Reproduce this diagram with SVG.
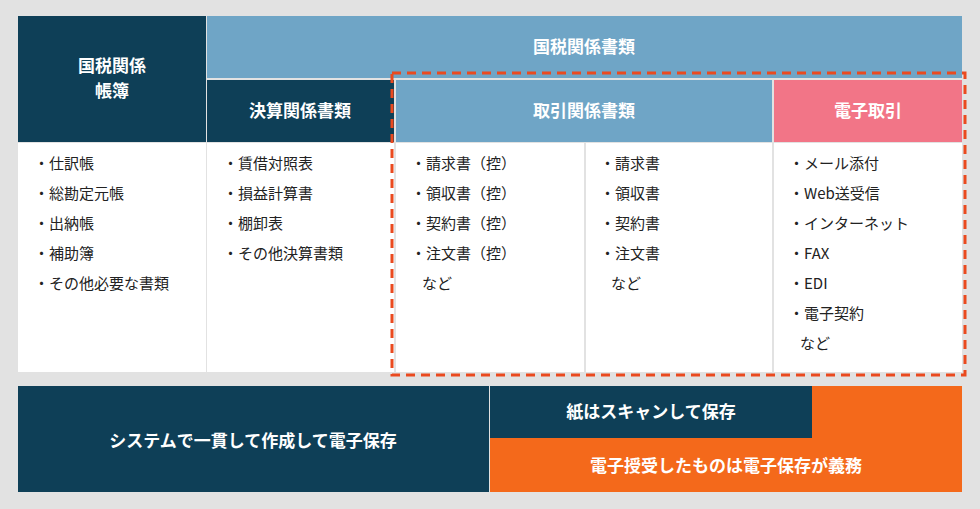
<svg xmlns="http://www.w3.org/2000/svg" width="980" height="509" viewBox="0 0 980 509">
<style>
text{font-family:"Noto Sans CJK JP","Noto Sans",sans-serif;}
.h{fill:#fff;font-size:17px;font-weight:bold;text-anchor:middle;}
.b{fill:#222;font-size:15px;}
.navy{fill:#0e3f57;}
.lb{fill:#6fa5c6;}
</style>
<rect width="980" height="509" fill="#e2e2e2"/>
<g id="hdr-col1"><rect class="navy" x="18" y="16" width="188" height="126"/><text class="h" x="112" y="72">国税関係</text><text class="h" x="112" y="97">帳簿</text></g>
<g id="hdr-top"><rect class="lb" x="207" y="16" width="755" height="62"/><text class="h" x="584" y="53">国税関係書類</text></g>
<g id="hdr-kessan"><rect class="navy" x="207" y="80" width="187" height="62"/><text class="h" x="300" y="117">決算関係書類</text></g>
<g id="hdr-torihiki"><rect class="lb" x="396" y="80" width="376" height="62"/><text class="h" x="584" y="117">取引関係書類</text></g>
<g id="hdr-denshi"><rect fill="#f27587" x="774" y="80" width="188" height="62"/><text class="h" x="868" y="117">電子取引</text></g>
<g id="body">
<rect fill="#fff" x="18" y="143" width="188" height="229"/>
<rect fill="#fff" x="207" y="143" width="187" height="229"/>
<rect fill="#fff" x="396" y="143" width="188" height="229"/>
<rect fill="#fff" x="586" y="143" width="186" height="229"/>
<rect fill="#fff" x="774" y="143" width="188" height="229"/>
</g>
<g id="list1" class="b"><text class="b" x="34" y="169">・仕訳帳</text><text class="b" x="34" y="199">・総勘定元帳</text><text class="b" x="34" y="229">・出納帳</text><text class="b" x="34" y="259">・補助簿</text><text class="b" x="34" y="289">・その他必要な書類</text></g>
<g id="list2"><text class="b" x="223" y="169">・賃借対照表</text><text class="b" x="223" y="199">・損益計算書</text><text class="b" x="223" y="229">・棚卸表</text><text class="b" x="223" y="259">・その他決算書類</text></g>
<g id="list3"><text class="b" x="411" y="169">・請求書（控）</text><text class="b" x="411" y="199">・領収書（控）</text><text class="b" x="411" y="229">・契約書（控）</text><text class="b" x="411" y="259">・注文書（控）</text><text class="b" x="422" y="289">など</text></g>
<g id="list4"><text class="b" x="600" y="169">・請求書</text><text class="b" x="600" y="199">・領収書</text><text class="b" x="600" y="229">・契約書</text><text class="b" x="600" y="259">・注文書</text><text class="b" x="611" y="289">など</text></g>
<g id="list5"><text class="b" x="789" y="169">・メール添付</text><text class="b" x="789" y="199">・Web送受信</text><text class="b" x="789" y="229">・インターネット</text><text class="b" x="789" y="259">・FAX</text><text class="b" x="789" y="289">・EDI</text><text class="b" x="789" y="319">・電子契約</text><text class="b" x="800" y="349">など</text></g>
<g id="connectors"><rect x="392" y="73" width="573" height="302" fill="none" stroke="#ea4a1f" stroke-width="3" stroke-dasharray="9,6"/></g>
<g id="bottom-left"><rect class="navy" x="18" y="386" width="471" height="106"/><text class="h" x="253" y="447">システムで一貫して作成して電子保存</text></g>
<g id="bottom-right"><rect fill="#f4691b" x="490" y="386" width="472" height="106"/><text class="h" x="726" y="472">電子授受したものは電子保存が義務</text></g>
<g id="bottom-scan"><rect class="navy" x="490" y="386" width="322" height="52"/><text class="h" x="651" y="418">紙はスキャンして保存</text></g>
</svg>
